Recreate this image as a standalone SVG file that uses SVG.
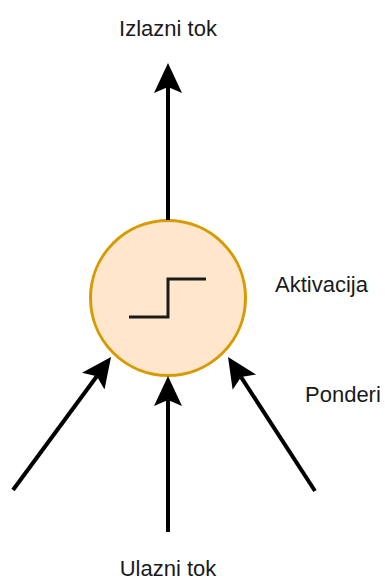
<svg xmlns="http://www.w3.org/2000/svg" width="385" height="581" viewBox="0 0 385 581">
  <style>
    .lbl { font-family: "Liberation Sans", Arial, sans-serif; font-size: 22px; fill: #1a1a1a; }
    .edge { stroke: #000; stroke-width: 4; fill: none; }
  </style>
  <defs>
    <marker id="ah" markerUnits="userSpaceOnUse" markerWidth="32" markerHeight="32" viewBox="0 -16 32 32" refX="6" refY="0" orient="auto">
      <path d="M30,0 L0,-14 L6,0 L0,14 Z" fill="#000"/>
    </marker>
  </defs>
  <rect width="385" height="581" fill="#fff"/>
  <g id="neuron">
    <circle cx="168" cy="298" r="77.5" fill="#ffe6cc" stroke="#d79b00" stroke-width="3"/>
    <path d="M129,317 H168 V279 H206" fill="none" stroke="#1a1a1a" stroke-width="3"/>
  </g>
  <g id="connectors">
    <line class="edge" x1="168" y1="220" x2="168" y2="87" marker-end="url(#ah)"/>
    <line class="edge" x1="168" y1="532" x2="168" y2="400" marker-end="url(#ah)"/>
    <line class="edge" x1="13" y1="490" x2="96.8" y2="376.3" marker-end="url(#ah)"/>
    <line class="edge" x1="315" y1="491" x2="241.1" y2="377.1" marker-end="url(#ah)"/>
  </g>
  <g id="label-izlazni"><text class="lbl" x="168" y="36" text-anchor="middle">Izlazni tok</text></g>
  <g id="label-ulazni"><text class="lbl" x="168" y="576" text-anchor="middle">Ulazni tok</text></g>
  <g id="label-aktivacija"><text class="lbl" x="275" y="292">Aktivacija</text></g>
  <g id="label-ponderi"><text class="lbl" x="305" y="402">Ponderi</text></g>
</svg>
